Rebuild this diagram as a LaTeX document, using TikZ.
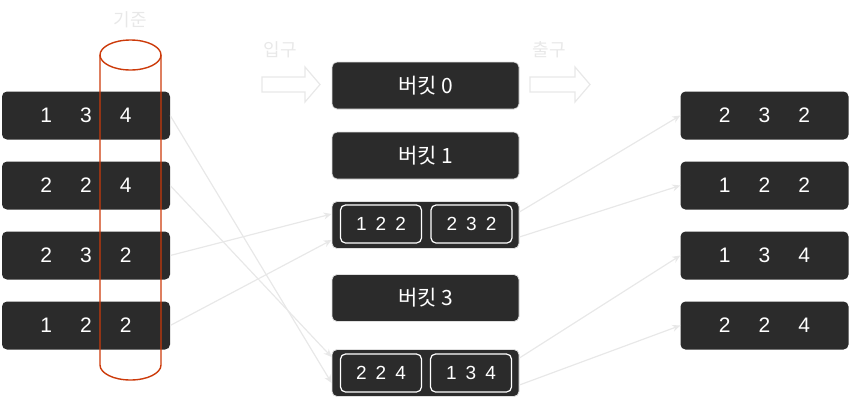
\documentclass[tikz,border=0pt]{standalone}
\usepackage{fontspec}
\setmainfont{Liberation Sans}
\newfontfamily\kofont{Noto Sans CJK KR}
\usetikzlibrary{arrows.meta,calc}
\definecolor{boxgray}{HTML}{2B2B2B}
\definecolor{linegray}{HTML}{E8E8E8}
\definecolor{cylred}{HTML}{CC3A0A}
\newcommand{\trio}[3]{#1\hspace{28pt}#2\hspace{28pt}#3}
\newcommand{\smalltrio}[3]{#1\hspace{9pt}#2\hspace{9pt}#3}

\begin{document}
\begin{tikzpicture}[x=1pt,y=-1pt,
	rec/.style={fill=boxgray, rounded corners=5pt, minimum width=168pt, minimum height=48pt, inner sep=0pt, text=white, font=\fontsize{21}{25}\selectfont},
	bucket/.style={fill=boxgray, draw=black!12, line width=0.8pt, rounded corners=5pt, minimum width=187pt, minimum height=47pt, inner sep=0pt, text=white, font=\kofont\fontsize{21}{25}\selectfont},
	part/.style={draw=white, line width=1.2pt, rounded corners=5pt, minimum width=81pt, minimum height=38pt, inner sep=0pt, text=white, font=\fontsize{19}{23}\selectfont},
	flow/.style={draw=linegray, line width=1.2pt, -{Stealth[length=8pt,width=7pt]}},
	hint/.style={text=linegray, font=\kofont\fontsize{18}{21}\selectfont},
	cyl/.style={draw=cylred, line width=1.4pt}]
	\useasboundingbox (0,0) rectangle (852,400);

	% input rows
	\node[rec] (l1) at (86,115.5) {\trio{1}{3}{4}};
	\node[rec] (l2) at (86,185.5) {\trio{2}{2}{4}};
	\node[rec] (l3) at (86,255.5) {\trio{2}{3}{2}};
	\node[rec] (l4) at (86,325.5) {\trio{1}{2}{2}};

	% key column
	\draw[cyl] (130.5,55) ellipse [x radius=30.5, y radius=15];
	\draw[cyl] (100,55) -- (100,365) arc [start angle=180, end angle=0, x radius=30.5, y radius=15] -- (161,55);
	\node[hint] (key) at (130,20) {기준};

	% buckets
	\node[bucket] (b0) at (425.5,85.5) {버킷 0};
	\node[bucket] (b1) at (425.5,155.5) {버킷 1};
	\node[bucket] (b2) at (425.5,225) {};
	\node[bucket] (b3) at (425.5,298) {버킷 3};
	\node[bucket] (b4) at (425.5,373) {};
	\node[part] (p1) at (381,224) {\smalltrio{1}{2}{2}};
	\node[part] (p2) at (471.5,224) {\smalltrio{2}{3}{2}};
	\node[part] (p3) at (381,373) {\smalltrio{2}{2}{4}};
	\node[part] (p4) at (471,373) {\smalltrio{1}{3}{4}};

	% output rows
	\node[rec] (r1) at (764.5,115.5) {\trio{2}{3}{2}};
	\node[rec] (r2) at (764.5,185.5) {\trio{1}{2}{2}};
	\node[rec] (r3) at (764.5,255.5) {\trio{1}{3}{4}};
	\node[rec] (r4) at (764.5,325.5) {\trio{2}{2}{4}};

	% in / out marks
	\draw[linegray, line width=1.2pt] (262,77) -- (305,77) -- (305,67) -- (320,84.5) -- (305,102) -- (305,92) -- (262,92) -- cycle;
	\draw[linegray, line width=1.2pt] (530,77) -- (575,77) -- (575,67) -- (590,84.5) -- (575,102) -- (575,92) -- (530,92) -- cycle;
	\node[hint] (inlbl) at (280,50) {입구};
	\node[hint] (outlbl) at (549,50) {출구};

	% scatter
	\draw[flow] (l1.east) -- ($(b4.west)+(0,10)$);
	\draw[flow] (l2.east) -- ($(b4.west)+(0,-16)$);
	\draw[flow] (l3.east) -- ($(b2.west)+(0,-11)$);
	\draw[flow] (l4.east) -- ($(b2.west)+(0,15)$);

	% gather
	\draw[flow] ($(b2.east)+(0,-13)$) -- (r1.west);
	\draw[flow] ($(b2.east)+(0,12)$) -- (r2.west);
	\draw[flow] ($(b4.east)+(0,-15)$) -- (r3.west);
	\draw[flow] ($(b4.east)+(0,12)$) -- (r4.west);
\end{tikzpicture}
\end{document}
